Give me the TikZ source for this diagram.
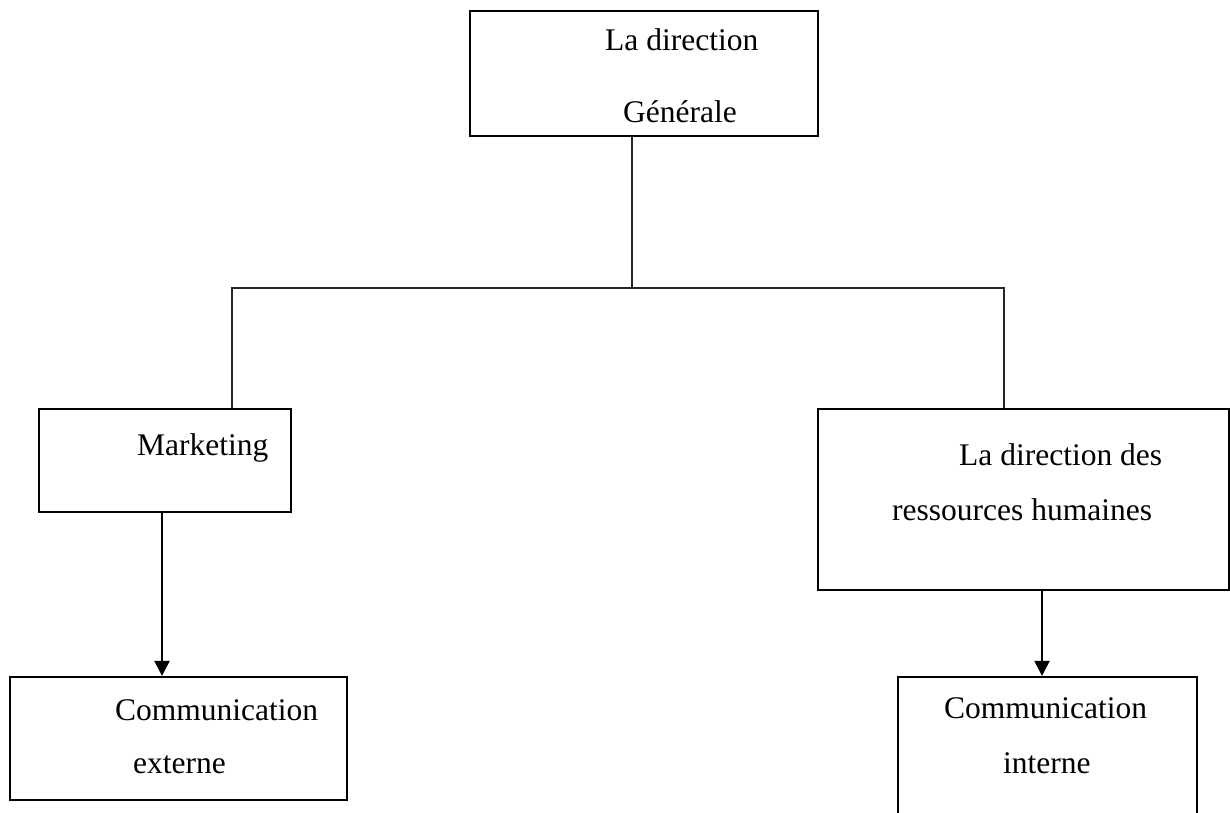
\documentclass[tikz,border=0pt]{standalone}
\usepackage{fontspec}
\setmainfont{Liberation Serif}
\usetikzlibrary{arrows.meta}
\begin{document}
\begin{tikzpicture}[x=1pt,y=-1pt,
  box/.style={draw=black, line width=2.2pt, inner sep=0pt, fill=white},
  label/.style={anchor=base west, inner sep=0pt, font=\fontsize{31.5pt}{36pt}\selectfont},
  conn/.style={draw=black!85, line width=1.4pt},
  arr/.style={draw=black, line width=2.2pt, -{Triangle[length=15pt,width=15pt]}}]
  \useasboundingbox (0,0) rectangle (1230,812);
  \clip (0,0) rectangle (1230,812);

  % boxes
  \node[box, minimum width=348pt, minimum height=125pt] (dg)  at (644,73.5) {};
  \node[box, minimum width=252pt, minimum height=103pt] (mk)  at (165,460.5) {};
  \node[box, minimum width=411pt, minimum height=181pt] (drh) at (1023.5,499.5) {};
  \node[box, minimum width=337pt, minimum height=123pt] (ce)  at (178.5,738.5) {};
  \node[box, minimum width=299pt, minimum height=160pt] (ci)  at (1047.5,757) {};

  % labels
  \node[label] (dg1)  at (605,50)  {La direction};
  \node[label] (dg2)  at (623,122) {Générale};
  \node[label] (mk1)  at (137,455) {Marketing};
  \node[label] (drh1) at (959,465) {La direction des};
  \node[label] (drh2) at (892,520) {ressources humaines};
  \node[label] (ce1)  at (115,720) {Communication};
  \node[label] (ce2)  at (133,773) {externe};
  \node[label] (ci1)  at (944,718) {Communication};
  \node[label] (ci2)  at (1003,773) {interne};

  % hierarchy connectors
  \coordinate (hub) at (632,288);
  \coordinate (jl)  at (232,288);
  \coordinate (jr)  at (1004,288);
  \draw[conn] (dg.south -| hub) -- (hub);
  \draw[conn] (mk.north -| jl) -- (jl) -- (jr) -- (drh.north -| jr);

  % arrows down to the communication boxes
  \draw[arr] ([xshift=-3pt]mk.south) -- ([xshift=-3pt]mk.south |- ce.north);
  \draw[arr] ([xshift=18.5pt]drh.south) -- ([xshift=18.5pt]drh.south |- ci.north);
\end{tikzpicture}
\end{document}
